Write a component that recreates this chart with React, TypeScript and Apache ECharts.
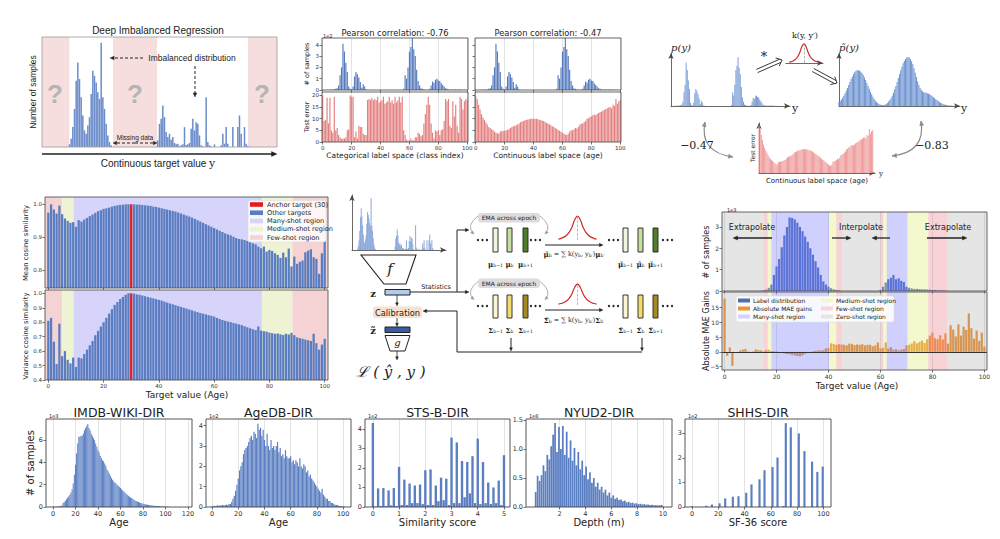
import React, { useEffect, useRef } from "react";
import * as echarts from "echarts";

const SANS = "DejaVu Sans";
const SERIF = "DejaVu Serif";
const ARIAL = "Liberation Sans";

// ---------------- data ----------------
// (a) Deep Imbalanced Regression sketch: bins across the target range
const DIR_LEFT_START = 16;
const DIR_LEFT = [8, 25, 60, 115, 200, 255, 205, 150, 95, 50, 40, 65, 90, 160, 230, 215, 195, 165, 145, 315, 150, 115, 70, 35, 15, 5];
const DIR_RIGHT_START = 69;
const DIR_RIGHT = [20, 70, 85, 125, 90, 45, 30, 40, 22, 30, 12, 8, 10, 3, 5, 8, 60, 6, 8, 12, 55, 85, 50, 75, 70, 35, 5, 2, 0, 150, 15, 5, 2, 0, 8, 0, 0, 0, 5, 40, 10, 60, 10, 0, 0, 60, 0, 0, 60, 95, 40, 0, 60, 10, 3];
const DIR_MISSING = [[-0.5, 15.9], [42.1, 68.5], [123.1, 140.5]];

// (b) label distribution (1e2) and test errors, index = label 0..100
const LABEL_DIST = [0, 0, 0, 0.03, 0, 0.05, 0.03, 0.05, 0.04, 0.1,
  0.15, 0.4, 1.3, 2.0, 4.1, 3.4, 2.4, 1.6, 0.3, 0.1,
  0.05, 0.3, 1.2, 1.6, 1.4, 1.1, 0.7, 0.2, 0.5, 0.3,
  0.05, 0.02, 0, 0, 0, 0, 0, 0, 0, 0,
  0, 0, 0, 0, 0, 0, 0, 0, 0, 0,
  0, 0, 0, 0, 0, 0, 0.1, 1.3, 1.0, 2.0,
  3.4, 3.8, 4.6, 3.6, 3.0, 1.8, 0.8, 0.4, 0.15, 0.1,
  0.05, 0.02, 0, 0.02, 0.1, 0.4, 0.75, 0.65, 0.9, 1.0,
  0.85, 0.8, 0.6, 0.45, 0.3, 0.15, 0.1, 0.05, 0.02, 0.03,
  0.05, 0.02, 0.05, 0.03, 0.05, 0.02, 0.03, 0, 0.02, 0,
  0];
const TEST_ERR_CAT = [20, 9, 9.5, 19, 8, 19, 5, 4, 19.5, 5,
  6, 3, 2, 1.3, 1.5, 1.5, 2, 5, 5.5, 20,
  19.5, 19.5, 2, 4.5, 1.5, 7, 6.5, 6.5, 3.5, 3,
  3, 18, 18.5, 18, 19, 18, 18.5, 18, 19.5, 17,
  17.5, 18, 19.5, 16.5, 17, 17.5, 19.5, 17, 18, 16.5,
  19.5, 17, 18, 19.5, 17, 19.5, 5, 3, 1, 0.5,
  0.8, 1.5, 0.6, 0.8, 2, 2, 4, 3.5, 2.5, 3,
  8, 12, 16, 19.5, 16, 8, 4, 1.5, 5, 4.5,
  5, 3, 5, 5.5, 9, 18.5, 17.5, 18.5, 7, 6,
  17.5, 11, 16, 7, 4, 19.5, 18.5, 14, 17.5, 18.5,
  18];
const TEST_ERR_AGE = [20, 18.5, 16, 14, 12, 10.5, 9.5, 8.5, 7.5, 6.5,
  6, 5.5, 5, 4.5, 4, 3.8, 3.5, 4.5, 4.6, 4.8,
  4.8, 5, 5.2, 5.5, 6, 6.5, 6.8, 7, 7.2, 7.5,
  8, 8.5, 8.8, 9, 9.3, 9.5, 9.7, 9.8, 10, 10,
  10, 10, 10, 9.8, 9.6, 9.4, 9.2, 9, 8.6, 8.2,
  8, 7.6, 7.2, 6.8, 6.5, 6, 5.6, 5.2, 4.8, 4.4,
  4, 3.6, 3.2, 3, 3.5, 4.5, 5, 5, 5.5, 6,
  5.8, 6.5, 7.5, 7.8, 8, 8.5, 9, 10, 10.2, 10.8,
  11, 11.5, 11.8, 11.5, 12, 12.5, 12.8, 13, 13.5, 13.8,
  14.2, 14.5, 14.8, 15, 14.5, 16, 15.5, 18.5, 16.5, 17.5,
  18];

// (c) smoothed label density p~(y) and kernel shape
const P_TILDE = [0.08, 0.1, 0.13, 0.17, 0.21, 0.26, 0.31, 0.37, 0.43, 0.49,
  0.55, 0.6, 0.65, 0.69, 0.72, 0.73, 0.73, 0.72, 0.7, 0.67,
  0.63, 0.58, 0.53, 0.47, 0.41, 0.35, 0.29, 0.24, 0.19, 0.15,
  0.11, 0.08, 0.06, 0.04, 0.03, 0.02, 0.02, 0.02, 0.03, 0.04,
  0.06, 0.09, 0.12, 0.16, 0.21, 0.27, 0.34, 0.41, 0.49, 0.57,
  0.65, 0.73, 0.8, 0.87, 0.92, 0.96, 0.99, 1.0, 0.99, 0.96,
  0.91, 0.85, 0.77, 0.68, 0.59, 0.5, 0.43, 0.37, 0.33, 0.3,
  0.28, 0.27, 0.27, 0.26, 0.25, 0.24, 0.22, 0.2, 0.18, 0.16,
  0.14, 0.12, 0.1, 0.08, 0.065, 0.05, 0.04, 0.03, 0.025, 0.02,
  0.015, 0.012, 0.01, 0.008, 0.006, 0.005, 0.004, 0.003, 0.002, 0.001,
  0];
const KERNEL = [0.04, 0.07, 0.12, 0.2, 0.33, 0.55, 0.85, 1.0, 0.85, 0.55, 0.33, 0.2, 0.12, 0.07, 0.04];
const KERNEL_CENTER = 7;

// (d) feature similarity to anchor age 30
const ANCHOR_AGE = 30;
const MEAN_SIM = [0.975, 1.0, 0.984, 0.972, 0.996, 0.97, 0.957, 0.95, 0.944, 0.946,
  0.932, 0.952, 0.948, 0.954, 0.959, 0.964, 0.969, 0.974, 0.979, 0.982,
  0.986, 0.988, 0.99, 0.993, 0.995, 0.997, 0.998, 0.999, 1.0, 1.0,
  1.0, 1.0, 0.999, 0.999, 0.998, 0.997, 0.996, 0.995, 0.993, 0.992,
  0.99, 0.988, 0.986, 0.984, 0.982, 0.98, 0.978, 0.975, 0.972, 0.969,
  0.966, 0.963, 0.96, 0.956, 0.952, 0.948, 0.944, 0.94, 0.936, 0.932,
  0.928, 0.924, 0.92, 0.916, 0.912, 0.909, 0.906, 0.902, 0.898, 0.895,
  0.894, 0.892, 0.889, 0.886, 0.882, 0.879, 0.872, 0.867, 0.872, 0.857,
  0.862, 0.859, 0.852, 0.847, 0.838, 0.854, 0.84, 0.866, 0.812, 0.842,
  0.82, 0.826, 0.83, 0.855, 0.86, 0.864, 0.84, 0.835, 0.79, 0.852,
  0.889];
const VAR_SIM = [0.81, 0.83, 0.665, 0.51, 0.79, 0.565, 0.6, 0.54, 0.515, 0.555,
  0.49, 0.555, 0.55, 0.58, 0.61, 0.64, 0.67, 0.71, 0.74, 0.77,
  0.8, 0.83, 0.86, 0.89, 0.92, 0.94, 0.96, 0.975, 0.99, 1.0,
  1.0, 0.998, 0.993, 0.99, 0.985, 0.98, 0.975, 0.97, 0.965, 0.96,
  0.955, 0.95, 0.943, 0.936, 0.93, 0.924, 0.918, 0.912, 0.906, 0.9,
  0.894, 0.888, 0.882, 0.876, 0.87, 0.864, 0.859, 0.854, 0.849, 0.844,
  0.839, 0.83, 0.822, 0.815, 0.81, 0.805, 0.8, 0.795, 0.79, 0.785,
  0.78, 0.772, 0.765, 0.758, 0.752, 0.746, 0.77, 0.742, 0.738, 0.735,
  0.728, 0.724, 0.72, 0.722, 0.716, 0.712, 0.72, 0.715, 0.726, 0.71,
  0.695, 0.69, 0.685, 0.68, 0.675, 0.67, 0.72, 0.655, 0.61, 0.645,
  0.685];
const D_REGION_EDGES = [-1.2, 5, 9.1, 77.3, 88.3, 101.2];
const D_REGION_TYPES = ["few", "medium", "many", "medium", "few"];

// (f) label distribution (1e3) and absolute MAE gains
const F_LABEL = [0, 0, 0, 0, 0, 0, 0, 0, 0, 0,
  0, 0, 0, 0, 0.01, 0.03, 0.06, 0.15, 0.3, 0.75,
  1.15, 1.5, 2.05, 2.6, 3.0, 3.45, 3.42, 3.35, 3.2, 3.0,
  2.8, 2.55, 2.3, 2.0, 1.7, 1.4, 1.1, 0.75, 0.45, 0.3,
  0.2, 0.13, 0.08, 0.05, 0.03, 0.01, 0, 0, 0, 0,
  0, 0, 0, 0, 0, 0, 0, 0, 0, 0,
  0.05, 0.2, 0.4, 0.55, 0.62, 0.75, 0.55, 0.6, 0.48, 0.42,
  0.2, 0.15, 0.12, 0.1, 0.1, 0.09, 0.08, 0.08, 0.07, 0.06,
  0.05, 0.05, 0.04, 0.03, 0.03, 0.02, 0, 0, 0, 0,
  0, 0, 0, 0, 0, 0, 0, 0, 0, 0,
  0];
const MAE_GAINS = [18, -1.3, 1.5, -4.7, 0, -0.3, 0.5, 0.8, 1.0, 0.2,
  -0.3, 0.2, 0.8, 0.6, 0.5, 0.2, 0.6, 0.7, 0.3, 0.2,
  0.2, -0.1, -0.3, -0.5, -0.7, -0.8, -1.0, -1.2, -1.4, -1.5,
  -1.2, -0.6, -0.3, -0.1, 0.2, 0.4, 0.5, 0.5, 0.6, 1.2,
  1.3, 2.9, 2.7, 2.4, 2.6, 2.5, 2.4, 2.2, 2.8, 2.7,
  2.3, 2.5, 2.4, 2.6, 2.2, 2.4, 2.4, 1.9, 2.2, 3.2,
  1.2, 1.4, 3.2, 1.1, 1.6, 0.8, 0.9, 0.5, 0.8, 1.0,
  2.2, 2.4, 2.8, 3.6, 2.9, 3.3, 3.8, 3.0, 4.3, 5.5,
  6.5, 4.6, 4.3, 5.6, 4.2, 6.2, 2.8, 9.0, 7.5, 5.2,
  9.3, 5.5, 8.5, 7.4, 13.0, 8.0, 4.5, 7.2, 3.7, 6.5,
  1.8];
const F_REGION_EDGES = [-1, 15, 16.6, 18, 40.2, 43, 45.3, 60.1, 61.1, 62.4, 70.4, 78.4, 85.6, 101];
const F_REGION_TYPES = ["zero", "few", "medium", "many", "medium", "few", "zero", "few", "medium", "many", "medium", "few", "zero"];

// bottom row histograms
const IMDB = [0.02, 0.02, 0.03, 0.03, 0.05, 0.05, 0.08, 0.1, 0.15, 0.35,
  0.45, 0.55, 0.7, 0.85, 0.95, 1.1, 1.3, 1.6, 2.1, 2.9,
  3.8, 4.8, 5.7, 6.3, 6.3, 6.4, 6.4, 6.6, 6.9, 7.1,
  7.3, 7.45, 7.1, 6.9, 6.6, 6.4, 6.2, 6.0, 5.7, 5.4,
  5.1, 4.9, 4.6, 4.4, 4.2, 4.1, 3.9, 3.7, 3.4, 3.2,
  3.0, 2.8, 2.6, 2.45, 2.3, 2.2, 2.1, 2.0, 1.9, 1.8,
  1.7, 1.6, 1.5, 1.4, 1.3, 1.2, 1.1, 1.0, 0.92, 0.85,
  0.8, 0.72, 0.65, 0.58, 0.54, 0.5, 0.45, 0.4, 0.36, 0.33,
  0.3, 0.27, 0.24, 0.22, 0.2, 0.18, 0.16, 0.15, 0.14, 0.13,
  0.12, 0.1, 0.09, 0.08, 0.07, 0.06, 0.05, 0.045, 0.04, 0.035,
  0.03, 0.02, 0.02, 0.015, 0.01, 0.01, 0.008, 0.006, 0.005, 0.004,
  0.003];
const AGEDB = [0.05, 0.03, 0.06, 0.05, 0.08, 0.06, 0.07, 0.08, 0.1, 0.08,
  0.1, 0.12, 0.1, 0.15, 0.15, 0.25, 0.4, 0.55, 0.8, 1.1,
  1.4, 1.8, 2.0, 2.2, 2.6, 2.8, 2.9, 3.0, 3.2, 3.4,
  3.5, 3.3, 3.7, 3.6, 3.4, 4.1, 3.8, 3.9, 3.5, 3.8,
  3.3, 3.0, 3.6, 3.0, 2.8, 3.3, 2.9, 3.0, 2.8, 3.0,
  3.2, 2.7, 2.9, 2.5, 2.6, 2.4, 2.8, 2.5, 2.4, 2.4,
  2.5, 2.2, 2.3, 2.1, 2.3, 2.2, 2.0, 2.4, 2.0, 1.9,
  2.1, 2.0, 1.7, 1.8, 1.5, 1.6, 1.4, 1.3, 1.2, 1.1,
  1.0, 0.9, 0.8, 0.7, 0.9, 0.6, 0.5, 0.4, 0.4, 0.3,
  0.3, 0.2, 0.2, 0.15, 0.1, 0.1, 0.1, 0.05, 0.05, 0.05,
  0.03, 0.02];
const STS_BIN = 0.1;
const STS = [4.3, 0.02, 0.95, 0.05, 0.97, 0.05, 0.85, 0.08, 0.97, 0.05,
  2.05, 0.1, 1.4, 0.1, 1.2, 0.2, 1.1, 0.2, 1.15, 0.15,
  1.88, 0.1, 1.92, 0.1, 1.1, 0.3, 1.5, 0.35, 1.45, 0.1,
  3.55, 0.2, 3.3, 0.2, 2.35, 0.5, 2.3, 0.7, 2.6, 0.2,
  3.5, 0.15, 2.3, 0.2, 1.25, 0.15, 1.0, 0.2, 1.35, 0.1,
  2.65];
const NYU_START = 0.15;
const NYU_BIN = 0.15;
const NYU = [0.26, 0.54, 0.45, 0.55, 0.72, 0.62, 0.9, 0.82, 1.05, 1.25,
  1.45, 0.95, 1.38, 1.0, 1.4, 0.9, 1.3, 0.85, 1.15, 0.8,
  1.02, 0.72, 0.95, 0.65, 0.8, 0.55, 0.7, 0.48, 0.6, 0.42,
  0.5, 0.35, 0.42, 0.3, 0.35, 0.25, 0.3, 0.2, 0.25, 0.16,
  0.2, 0.14, 0.16, 0.12, 0.13, 0.1, 0.11, 0.08, 0.09, 0.07,
  0.075, 0.06, 0.065, 0.05, 0.055, 0.045, 0.05, 0.04, 0.042, 0.035,
  0.038, 0.03, 0.032, 0.028, 0.03, 0.035];
const SHHS_X = [0, 5, 10.9, 15.2, 21, 25.3, 31.1, 35.4, 41.3, 45.3, 51.4, 55.2, 61.3, 65.1, 69.6, 71.4, 75.2, 81.3, 85.6, 91.4, 95.4, 99.5];
const SHHS_Y = [0.03, 0.01, 0.05, 0.1, 0.15, 0.35, 0.42, 0.44, 0.58, 0.92, 1.13, 1.5, 1.63, 2.02, 0.04, 3.42, 3.25, 3.0, 2.28, 1.85, 1.43, 1.65];

// tick labels
const AGE_TICKS = [0, 20, 40, 60, 80, 100];
const IMDB_X_TICKS = [0, 20, 40, 60, 80, 100, 120];
const IMDB_Y_TICKS = [0, 2, 4, 6];
const AGEDB_Y_TICKS = [0, 1, 2, 3, 4];
const STS_X_TICKS = [0, 1, 2, 3, 4, 5];
const STS_Y_TICKS = [0, 1, 2, 3, 4];
const NYU_X_TICKS = [2, 4, 6, 8, 10];
const NYU_Y_TICKS = [0, 0.5, 1.0, 1.5];
const SHHS_Y_TICKS = [0, 1, 2, 3];
const B_COUNT_TICKS = [0, 1, 2, 3, 4];
const B_ERR_TICKS = [0, 5, 10, 15, 20];
const SIM_MEAN_TICKS = [0.8, 0.9, 1.0];
const SIM_VAR_TICKS = [0.4, 0.5, 0.6, 0.7, 0.8, 0.9, 1.0];
const F_COUNT_TICKS = [0, 1, 2, 3];
const F_GAIN_TICKS = [-5, 0, 5, 10, 15];

// colours
const BLUE = "#5479bd";
const RED = "#e47f7f";
const ORANGE = "#ec9538";
const D_COLORS: any = { few: "#f5d3d4", medium: "#eef3d4", many: "#d6d4fa" };
const F_OVERLAY: any = { zero: "rgba(150,150,150,0.25)", few: "rgba(232,130,140,0.35)", medium: "rgba(222,232,100,0.32)", many: "rgba(120,120,255,0.35)" };
const F_SWATCH: any = { zero: "#e5e5e5", few: "#f7d5d8", medium: "#f5f7cf", many: "#d2d2ff" };

// ---------------- helpers ----------------
function axis(gi: number, min: number, max: number, ticks: number[], o: any = {}) {
  const step = ticks.length > 1 ? ticks[1] - ticks[0] : max - min;
  const isTick = (v: number) => ticks.some((t) => Math.abs(t - v) < Math.abs(step) * 1e-3);
  const fmt = (v: number) => {
    if (!isTick(v)) return "";
    const s = o.dec != null ? Number(v).toFixed(o.dec) : String(Math.round(v * 1000) / 1000);
    return s.replace("-", "\u2212");
  };
  return {
    type: "value",
    gridIndex: gi,
    min,
    max,
    minInterval: step,
    maxInterval: step,
    axisLine: {
      show: !!o.line,
      onZero: false,
      lineStyle: { color: o.lineColor || "#333", width: o.lineWidth || 0.8 },
      symbol: o.arrow ? ["none", "arrow"] : "none",
      symbolSize: [4, 6],
    },
    axisTick: { show: o.tick !== false && ticks.length > 0, customValues: ticks, length: 2.5, lineStyle: { color: "#333", width: 0.7 } },
    axisLabel: {
      show: o.label !== false && ticks.length > 0,
      customValues: ticks,
      fontSize: o.fs || 6,
      color: "#333",
      margin: 3,
      fontFamily: SANS,
      hideOverlap: false,
      formatter: fmt,
    },
    splitLine: { show: !!o.grid, lineStyle: { color: "#dcdcdc", width: 0.8 } },
  };
}

const TXT = (x: number, y: number, text: string, o: any = {}) => ({
  type: "text",
  x,
  y,
  rotation: o.rot || 0,
  z: 100,
  silent: true,
  style: {
    text,
    fontSize: o.fs || 8,
    fontFamily: o.ff || SANS,
    fill: o.color || "#222",
    align: o.align || "center",
    verticalAlign: o.va || "middle",
    fontStyle: o.it ? "italic" : "normal",
    fontWeight: o.bold ? "bold" : "normal",
    rich: o.rich,
  },
});
const LN = (x1: number, y1: number, x2: number, y2: number, o: any = {}) => ({
  type: "line",
  z: 100,
  silent: true,
  shape: { x1, y1, x2, y2 },
  style: { stroke: o.color || "#222", lineWidth: o.w || 1, lineDash: o.dash },
});
const HEAD = (x: number, y: number, ang: number, s = 5, color = "#222") => {
  const a1 = ang + Math.PI - 0.42;
  const a2 = ang + Math.PI + 0.42;
  return {
    type: "polygon",
    z: 100,
    silent: true,
    shape: { points: [[x, y], [x + s * Math.cos(a1), y + s * Math.sin(a1)], [x + s * Math.cos(a2), y + s * Math.sin(a2)]] },
    style: { fill: color, stroke: color, lineWidth: 0.4 },
  };
};
const ARROW = (x1: number, y1: number, x2: number, y2: number, o: any = {}) => {
  const ang = Math.atan2(y2 - y1, x2 - x1);
  const s = o.s || 5;
  return [LN(x1, y1, x2 - Math.cos(ang) * s * 0.7, y2 - Math.sin(ang) * s * 0.7, o), HEAD(x2, y2, ang, s, o.color || "#222")];
};
const DARROW = (x1: number, y1: number, x2: number, y2: number) => {
  const ang = Math.atan2(y2 - y1, x2 - x1);
  const dx = Math.cos(ang), dy = Math.sin(ang);
  const px = -dy, py = dx;
  const d = 1.7;
  const ex = x2 - dx * 2, ey = y2 - dy * 2;
  return [
    LN(x1 + px * d, y1 + py * d, ex + px * d, ey + py * d, { w: 0.9 }),
    LN(x1 - px * d, y1 - py * d, ex - px * d, ey - py * d, { w: 0.9 }),
    { type: "polyline", z: 100, silent: true, shape: { points: [[x2 - dx * 5 + px * 4.5, y2 - dy * 5 + py * 4.5], [x2, y2], [x2 - dx * 5 - px * 4.5, y2 - dy * 5 - py * 4.5]] }, style: { stroke: "#222", lineWidth: 0.9, fill: "none" } },
  ];
};
const CURVE = (x1: number, y1: number, cx: number, cy: number, x2: number, y2: number, o: any = {}) => {
  const color = o.color || "#888";
  const out: any[] = [
    { type: "bezierCurve", z: 100, silent: true, shape: { x1, y1, x2, y2, cpx1: cx, cpy1: cy }, style: { stroke: color, lineWidth: o.w || 1.2, fill: "none" } },
  ];
  if (o.end !== false) out.push(HEAD(x2, y2, Math.atan2(y2 - cy, x2 - cx), o.s || 5, color));
  if (o.start) out.push(HEAD(x1, y1, Math.atan2(y1 - cy, x1 - cx), o.s || 5, color));
  return out;
};
const RECT = (x: number, y: number, w: number, h: number, fill: string, o: any = {}) => ({
  type: "rect",
  z: o.z || 100,
  silent: true,
  shape: { x, y, width: w, height: h, r: o.r || 0 },
  style: { fill, stroke: o.stroke || "none", lineWidth: o.lw || 1 },
});
const DOTS = (x: number, y: number) => [0, 4.5, 9].map((d) => ({ type: "circle", z: 100, silent: true, shape: { cx: x + d, cy: y, r: 1.15 }, style: { fill: "#222" } }));

const RICH = {
  m: { fontFamily: SERIF, fontWeight: "bold", fontSize: 7, lineHeight: 11, verticalAlign: "bottom", fill: "#222" },
  n: { fontFamily: SERIF, fontSize: 6.5, lineHeight: 11, verticalAlign: "bottom", fill: "#222" },
  s: { fontFamily: SERIF, fontSize: 4.6, lineHeight: 6, verticalAlign: "bottom", fill: "#222" },
};

function buildOption() {
  const grid: any[] = [];
  const xAxis: any[] = [];
  const yAxis: any[] = [];
  const series: any[] = [];
  const g: any[] = [];
  const addGrid = (l: number, t: number, w: number, h: number, frame?: string) => {
    grid.push({ left: l, top: t, width: w, height: h, containLabel: false });
    if (frame) g.push({ type: "rect", z: 60, silent: true, shape: { x: l, y: t, width: w, height: h }, style: { fill: "none", stroke: frame, lineWidth: 0.9 } });
    return grid.length - 1;
  };
  const idx = (arr: number[]) => arr.map((v, i) => [i, v]);
  const bars = (gi: number, data: any[], color: string, o: any = {}) =>
    series.push({
      type: "bar",
      xAxisIndex: gi,
      yAxisIndex: gi,
      data,
      barWidth: o.bw || "85%",
      itemStyle: { color },
      silent: true,
      z: 2,
      markArea: o.markArea,
      markLine: o.markLine,
    });
  const kernel = (gi: number) =>
    series.push({
      type: "line",
      xAxisIndex: gi,
      yAxisIndex: gi,
      data: idx(KERNEL),
      smooth: true,
      showSymbol: false,
      silent: true,
      lineStyle: { color: "#cc2b2b", width: 1.2 },
      markLine: {
        silent: true,
        symbol: "none",
        label: { show: false },
        lineStyle: { color: "#999", type: "dashed", width: 0.7 },
        data: [{ xAxis: KERNEL_CENTER }],
      },
    });

  // ===== (a) Deep Imbalanced Regression =====
  const dirData = DIR_LEFT.map((v, i) => [DIR_LEFT_START + i, v]).concat(DIR_RIGHT.map((v, i) => [DIR_RIGHT_START + i, v]));
  let gi = addGrid(42, 37, 235, 110, "#a3a3a3");
  xAxis.push(axis(gi, -0.5, 140.5, [], { tick: false, label: false }));
  yAxis.push(axis(gi, 0, 332, [], { tick: false, label: false }));
  bars(gi, dirData, "#6a8cca", {
    bw: "90%",
    markArea: { silent: true, itemStyle: { color: "#f6dede" }, data: DIR_MISSING.map(([a, b]) => [{ xAxis: a }, { xAxis: b }]) },
  });
  g.push(TXT(158, 30, "Deep Imbalanced Regression", { fs: 10, ff: ARIAL }));
  [[55, 94], [135, 94], [262, 94]].forEach(([x, y]) => g.push(TXT(x, y, "?", { fs: 26, bold: true, color: "#b4b4b4", ff: ARIAL })));
  g.push(TXT(192, 58, "Imbalanced distribution", { fs: 8.5, ff: ARIAL }));
  g.push(...ARROW(143, 58, 110, 58, { dash: [3, 2], w: 1, s: 4.5 }));
  g.push(...ARROW(195, 66, 195, 97, { dash: [3, 2], w: 1, s: 4.5 }));
  g.push(TXT(135, 137, "Missing data", { fs: 6.5, ff: ARIAL }));
  g.push(...ARROW(135, 143, 113, 143, { dash: [3, 2], w: 1, s: 4 }));
  g.push(...ARROW(135, 143, 157, 143, { dash: [3, 2], w: 1, s: 4 }));
  g.push(...ARROW(42, 154, 277, 154, { w: 1.6, s: 6 }));
  g.push(TXT(33, 92, "Number of samples", { fs: 8.5, ff: ARIAL, rot: Math.PI / 2 }));
  g.push(TXT(158, 163, "{a|Continuous target value }{b|y}", {
    fs: 10,
    rich: { a: { fontFamily: ARIAL, fontSize: 10, fill: "#222" }, b: { fontFamily: SERIF, fontSize: 11, fill: "#222" } },
  }));

  // ===== (b) Pearson correlation panels =====
  const bPanels = [
    { left: 322, err: TEST_ERR_CAT, title: "Pearson correlation: -0.76", xl: "Categorical label space (class index)", ylab: true },
    { left: 475, err: TEST_ERR_AGE, title: "Pearson correlation: -0.47", xl: "Continuous label space (age)", ylab: false },
  ];
  bPanels.forEach((p) => {
    const a = addGrid(p.left, 38, 146, 52, "#555");
    xAxis.push(axis(a, -0.5, 100.5, AGE_TICKS, { label: false, grid: true }));
    yAxis.push(axis(a, 0, 4.6, B_COUNT_TICKS, { fs: 5.5, label: p.ylab }));
    bars(a, idx(LABEL_DIST), BLUE, { bw: "80%" });
    const b = addGrid(p.left, 92, 146, 50, "#555");
    xAxis.push(axis(b, -0.5, 100.5, AGE_TICKS, { fs: 5.5, grid: true }));
    yAxis.push(axis(b, 0, 21.5, B_ERR_TICKS, { fs: 5.5, label: p.ylab }));
    bars(b, idx(p.err), RED, { bw: "80%" });
    g.push(TXT(p.left + 73, 33, p.title, { fs: 8.3 }));
    g.push(TXT(p.left + 73, 155, p.xl, { fs: 7.5 }));
  });
  g.push(TXT(323, 35.5, "1e2", { fs: 5, align: "left" }));
  g.push(TXT(307, 64, "# of samples", { fs: 6.5, rot: Math.PI / 2 }));
  g.push(TXT(307, 117, "Test error", { fs: 6.5, rot: Math.PI / 2 }));

  // ===== (c) LDS =====
  gi = addGrid(671, 53, 119, 53);
  xAxis.push(axis(gi, 0, 110, [], { line: true, arrow: true, lineColor: "#444" }));
  yAxis.push(axis(gi, 0, 5.0, [], { line: true, arrow: true, lineColor: "#444" }));
  bars(gi, idx(LABEL_DIST), "#7a9ed6", { bw: "80%" });
  gi = addGrid(839, 53, 121, 53);
  xAxis.push(axis(gi, 0, 100, [], { line: true, arrow: true, lineColor: "#444" }));
  yAxis.push(axis(gi, 0, 1.08, [], { line: true, arrow: true, lineColor: "#444" }));
  bars(gi, idx(P_TILDE), "#6e94d2", { bw: "88%" });
  gi = addGrid(759, 123, 116, 50);
  xAxis.push(axis(gi, 0, 102, [], { line: true, arrow: true, lineColor: "#444" }));
  yAxis.push(axis(gi, 0, 21, [], { line: true, arrow: true, lineColor: "#444" }));
  bars(gi, idx(TEST_ERR_AGE), "#ee9a9a", { bw: "88%" });
  gi = addGrid(786, 43, 37, 20);
  xAxis.push(axis(gi, -1.5, 16, [], { line: true, arrow: true, lineColor: "#444" }));
  yAxis.push(axis(gi, 0, 1.05, [], {}));
  kernel(gi);
  g.push(TXT(681, 47, "p(y)", { fs: 10, ff: SERIF, it: true }));
  g.push(TXT(849, 47, "p\u0303(y)", { fs: 10, ff: SERIF, it: true }));
  g.push(TXT(795, 108, "y", { fs: 11, ff: SERIF }));
  g.push(TXT(964, 108, "y", { fs: 11, ff: SERIF }));
  g.push(TXT(881, 174, "y", { fs: 7, ff: SERIF }));
  g.push(TXT(805, 35, "k(y, y\u2032)", { fs: 8, ff: SERIF }));
  g.push(TXT(764, 56, "*", { fs: 13, ff: SERIF }));
  g.push(...DARROW(757, 71, 782, 60));
  g.push(...DARROW(813, 70, 837, 83));
  g.push(...CURVE(733, 157, 699, 152, 705, 122, { start: true, color: "#8a8a8a" }));
  g.push(...CURVE(892, 156, 926, 152, 921, 121, { start: true, color: "#8a8a8a" }));
  g.push(TXT(697, 145, "\u22120.47", { fs: 11, ff: SERIF }));
  g.push(TXT(932, 145, "\u22120.83", { fs: 11, ff: SERIF }));
  g.push(TXT(752, 148, "Test error", { fs: 6, rot: Math.PI / 2 }));
  g.push(TXT(817, 181, "Continuous label space (age)", { fs: 7 }));

  // ===== (d) cosine similarity =====
  const dMark = {
    silent: true,
    data: D_REGION_TYPES.map((t, i) => [{ xAxis: D_REGION_EDGES[i], itemStyle: { color: D_COLORS[t] } }, { xAxis: D_REGION_EDGES[i + 1] }]),
  };
  const simBars = (arr: number[]) => arr.map((v, i) => (i === ANCHOR_AGE ? { value: [i, v], itemStyle: { color: "#e01e1e" } } : [i, v]));
  gi = addGrid(45, 197, 283, 91, "#555");
  xAxis.push(axis(gi, -1.2, 101.2, AGE_TICKS, { label: false }));
  yAxis.push(axis(gi, 0.747, 1.022, SIM_MEAN_TICKS, { fs: 5.5, dec: 1 }));
  bars(gi, simBars(MEAN_SIM), "#5a7cc0", { bw: "82%", markArea: dMark });
  gi = addGrid(45, 290, 283, 90, "#555");
  xAxis.push(axis(gi, -1.2, 101.2, AGE_TICKS, { fs: 5.5 }));
  yAxis.push(axis(gi, 0.4, 1.023, SIM_VAR_TICKS, { fs: 5.5, dec: 1 }));
  bars(gi, simBars(VAR_SIM), "#5a7cc0", { bw: "82%", markArea: dMark });
  g.push(TXT(26, 243, "Mean cosine similarity", { fs: 6.8, rot: Math.PI / 2 }));
  g.push(TXT(26, 336, "Variance cosine similarity", { fs: 6.8, rot: Math.PI / 2 }));
  g.push(TXT(187, 395, "Target value (Age)", { fs: 9 }));
  g.push(RECT(248, 200.5, 78, 41.5, "rgba(255,255,255,0.8)", { stroke: "#ddd", lw: 0.6, r: 2 }));
  const dLegend = [
    ["#e01e1e", "Anchor target (30)"],
    ["#5a7cc0", "Other targets"],
    [D_COLORS.many, "Many-shot region"],
    [D_COLORS.medium, "Medium-shot region"],
    [D_COLORS.few, "Few-shot region"],
  ];
  dLegend.forEach(([c, t], i) => {
    const y = 204.5 + i * 8.25;
    g.push(RECT(250, y - 2.3, 13, 4.6, c));
    g.push(TXT(267, y, t, { fs: 6.6, align: "left" }));
  });

  // ===== (e) FDS diagram =====
  gi = addGrid(352, 195, 94, 55);
  xAxis.push(axis(gi, 8, 141, [], { line: true, arrow: true, lineColor: "#444" }));
  yAxis.push(axis(gi, 0, 335, [], { line: true, arrow: true, lineColor: "#444" }));
  bars(gi, dirData, "#8aa8dc", { bw: "80%" });
  gi = addGrid(557, 215, 41, 25);
  xAxis.push(axis(gi, -0.5, 14.5, [], {}));
  yAxis.push(axis(gi, 0, 1.05, [], {}));
  kernel(gi);
  gi = addGrid(557, 283, 41, 22);
  xAxis.push(axis(gi, -0.5, 14.5, [], {}));
  yAxis.push(axis(gi, 0, 1.05, [], {}));
  kernel(gi);

  g.push({ type: "polygon", z: 100, silent: true, shape: { points: [[361, 255], [416, 255], [406, 284], [384, 284]] }, style: { fill: "#fff", stroke: "#222", lineWidth: 1.1 } });
  g.push(TXT(390, 269, "f", { fs: 15, ff: SERIF, it: true }));
  g.push(RECT(385, 289.5, 25, 5.5, "#b3c9ee", { stroke: "#222", lw: 1 }));
  g.push(TXT(373, 293, "z", { fs: 10, ff: SERIF, bold: true }));
  g.push(...ARROW(397, 295, 397, 306, { s: 3.5, w: 0.8 }));
  g.push(RECT(373, 306.5, 49, 11.5, "#f7e1d0", { r: 2.5 }));
  g.push(TXT(397.5, 312.5, "Calibration", { fs: 8.3 }));
  g.push(...ARROW(397, 318, 397, 326.5, { s: 3.5, w: 0.8 }));
  g.push(RECT(385, 327, 25, 5.5, "#3a5ba6", { stroke: "#222", lw: 1 }));
  g.push(TXT(373, 330, "z\u0303", { fs: 10, ff: SERIF, bold: true }));
  g.push({ type: "polygon", z: 100, silent: true, shape: { points: [[385, 335.5], [410, 335.5], [405, 351], [390, 351]] }, style: { fill: "#fff", stroke: "#222", lineWidth: 1 } });
  g.push(TXT(397.5, 342, "g", { fs: 10, ff: SERIF, it: true }));
  g.push(...ARROW(397, 351, 397, 360, { s: 3.5, w: 0.8 }));
  g.push(TXT(391, 372, "\u2112 ( y\u0302 , y )", { fs: 15, ff: SERIF, it: true }));
  g.push(LN(410, 292, 457, 292, { w: 1 }));
  g.push(...ARROW(457, 292, 469, 292, { s: 4, w: 1 }));
  g.push(LN(457, 292, 457, 230, { w: 1 }));
  g.push(...ARROW(457, 230, 469, 230, { s: 4, w: 1 }));
  g.push(TXT(436, 286.5, "Statistics", { fs: 6.5 }));
  g.push(LN(457, 352, 642, 352, { w: 1 }));
  g.push(LN(457, 352, 457, 311, { w: 1 }));
  g.push(...ARROW(457, 311, 423, 311, { s: 4, w: 1 }));
  g.push(...ARROW(511, 338, 511, 351, { s: 3.5, w: 1 }));
  g.push(...ARROW(642, 338, 642, 351, { s: 3.5, w: 1 }));

  const fdsRows = [
    { y: 228, h: 24, dotY: 240, arrowY: 245, labY: 262, formY: 252, emaY: 213, sym: "\u03bc", colors: ["#eef6df", "#c6dfa0", "#4f7f28"] },
    { y: 295, h: 23, dotY: 306, arrowY: 310, labY: 328, formY: 318, emaY: 278.5, sym: "\u03a3", colors: ["#fbf5d2", "#f4dc6c", "#a88a22"] },
  ];
  const subs = ["b\u22121", "b", "b+1"];
  fdsRows.forEach((r) => {
    g.push(RECT(478, r.emaY, 62, 9.5, "#dcdcdc", { r: 3 }));
    g.push(TXT(509, r.emaY + 4.8, "EMA across epoch", { fs: 6 }));
    g.push(...CURVE(478, r.emaY + 3, 465, r.emaY + 13, 474, r.emaY + 21, { color: "#999", w: 0.8, s: 3.5 }));
    g.push(...CURVE(540, r.emaY + 3, 553, r.emaY + 13, 545, r.emaY + 21, { color: "#999", w: 0.8, s: 3.5 }));
    g.push(...DOTS(478, r.dotY), ...DOTS(531, r.dotY), ...DOTS(609, r.dotY), ...DOTS(663, r.dotY));
    [493, 507, 523].forEach((x, i) => {
      g.push(RECT(x, r.y, 5, r.h, r.colors[i], { stroke: "#222", lw: 0.9 }));
      g.push(TXT(x + 2.5, r.labY, `{m|${r.sym}}{s|${subs[i]}}`, { rich: RICH }));
    });
    [623, 638, 653].forEach((x, i) => {
      g.push(RECT(x, r.y, 5, r.h, r.colors[i], { stroke: "#222", lw: 0.9 }));
      g.push(TXT(x + 2.5, r.labY, `{m|${r.sym}\u0303}{s|${subs[i]}}`, { rich: RICH }));
    });
    g.push(...ARROW(545, r.arrowY, 603, r.arrowY, { s: 4, w: 1 }));
    g.push(TXT(574, r.formY, `{m|${r.sym}\u0303}{s|b}{n| = \u2211 k(y}{s|b}{n|, y}{s|b\u2032}{n|)}{m|${r.sym}}{s|b\u2032}`, { rich: RICH }));
  });

  // ===== (f) interpolation / extrapolation =====
  const fMark = {
    silent: true,
    z: 5,
    data: F_REGION_TYPES.map((t, i) => [{ xAxis: F_REGION_EDGES[i], itemStyle: { color: F_OVERLAY[t] } }, { xAxis: F_REGION_EDGES[i + 1] }]),
  };
  gi = addGrid(722, 212, 265, 79, "#555");
  xAxis.push(axis(gi, -1, 101, AGE_TICKS, { label: false, grid: true }));
  yAxis.push(axis(gi, 0, 3.7, F_COUNT_TICKS, { fs: 6 }));
  bars(gi, idx(F_LABEL), "#4c6fc0", { bw: "85%", markArea: fMark });
  gi = addGrid(722, 292, 265, 78, "#555");
  xAxis.push(axis(gi, -1, 101, AGE_TICKS, { fs: 6, grid: true }));
  yAxis.push(axis(gi, -6.1, 20.2, F_GAIN_TICKS, { fs: 6 }));
  bars(gi, idx(MAE_GAINS), ORANGE, {
    bw: "85%",
    markArea: fMark,
    markLine: { silent: true, symbol: "none", label: { show: false }, lineStyle: { color: "#333", type: "solid", width: 1 }, data: [{ yAxis: 0 }] },
  });
  g.push(TXT(727, 209.5, "1e3", { fs: 5, align: "left" }));
  g.push(TXT(706, 252, "# of samples", { fs: 8, rot: Math.PI / 2 }));
  g.push(TXT(706, 331, "Absolute MAE Gains", { fs: 8, rot: Math.PI / 2 }));
  g.push(TXT(857, 386, "Target value (Age)", { fs: 9 }));
  g.push(TXT(752, 227, "Extrapolate", { fs: 8 }));
  g.push(TXT(861, 227, "Interpolate", { fs: 8 }));
  g.push(TXT(948, 227, "Extrapolate", { fs: 8 }));
  g.push(...ARROW(772, 238, 733, 238, { w: 1.3, s: 5 }));
  g.push(...ARROW(832, 238, 851, 238, { w: 1.3, s: 5 }));
  g.push(...ARROW(890, 238, 872, 238, { w: 1.3, s: 5 }));
  g.push(...ARROW(927, 238, 967, 238, { w: 1.3, s: 5 }));
  g.push(RECT(736, 296, 158, 26, "rgba(255,255,255,0.85)", { stroke: "#ddd", lw: 0.6, r: 2 }));
  const fLegend = [
    [["#4c72b0", "Label distribution"], [F_SWATCH.medium, "Medium-shot region"]],
    [[ORANGE, "Absolute MAE gains"], [F_SWATCH.few, "Few-shot region"]],
    [[F_SWATCH.many, "Many-shot region"], [F_SWATCH.zero, "Zero-shot region"]],
  ];
  fLegend.forEach((row, i) => {
    const y = 300.5 + i * 8;
    row.forEach(([c, t], j) => {
      const x = j === 0 ? 738 : 821;
      g.push(RECT(x, y - 2, 12, 4, c));
      g.push(TXT(x + 15, y, t, { fs: 6, align: "left" }));
    });
  });

  // ===== bottom row =====
  const hist = [
    { l: 46, w: 146, title: "IMDB-WIKI-DIR", xl: "Age", exp: "1e3", data: idx(IMDB), xmin: -6.2, xmax: 123.6, xt: IMDB_X_TICKS, ymax: 7.9, yt: IMDB_Y_TICKS, dec: undefined },
    { l: 206, w: 145, title: "AgeDB-DIR", xl: "Age", exp: "1e2", data: idx(AGEDB), xmin: -4.6, xmax: 106, xt: AGE_TICKS, ymax: 4.33, yt: AGEDB_Y_TICKS, dec: undefined },
    { l: 365, w: 145, title: "STS-B-DIR", xl: "Similarity score", exp: "1e2", data: STS.map((v, i) => [i * STS_BIN, v]), xmin: -0.3, xmax: 5.23, xt: STS_X_TICKS, ymax: 4.5, yt: STS_Y_TICKS, dec: undefined },
    { l: 526, w: 146, title: "NYUD2-DIR", xl: "Depth (m)", exp: "1e8", data: NYU.map((v, i) => [NYU_START + i * NYU_BIN, v]), xmin: -0.6, xmax: 10.7, xt: NYU_X_TICKS, ymax: 1.52, yt: NYU_Y_TICKS, dec: 1 },
    { l: 685, w: 146, title: "SHHS-DIR", xl: "SF-36 score", exp: "1e2", data: SHHS_X.map((x, i) => [x, SHHS_Y[i]]), xmin: -5.3, xmax: 105.8, xt: AGE_TICKS, ymax: 3.59, yt: SHHS_Y_TICKS, dec: undefined },
  ];
  hist.forEach((h) => {
    const k = addGrid(h.l, 419, h.w, 88, "#444");
    xAxis.push(axis(k, h.xmin, h.xmax, h.xt, { fs: 6.5, grid: true }));
    yAxis.push(axis(k, 0, h.ymax, h.yt, { fs: 6.5, dec: h.dec }));
    bars(k, h.data, "#5a7ec2", { bw: "90%" });
    g.push(TXT(h.l + h.w / 2, 412, h.title, { fs: 12.5 }));
    g.push(TXT(h.l + h.w / 2, 522, h.xl, { fs: 10 }));
    g.push(TXT(h.l + 3, 415.5, h.exp, { fs: 5, align: "left" }));
  });
  g.push(TXT(30, 463, "# of samples", { fs: 10, rot: Math.PI / 2 }));

  return {
    animation: false,
    backgroundColor: "#ffffff",
    textStyle: { fontFamily: SANS },
    grid,
    xAxis,
    yAxis,
    series,
    graphic: { elements: g },
  };
}

export default function App() {
  const ref = useRef<HTMLDivElement>(null);
  useEffect(() => {
    const chart = echarts.init(ref.current as HTMLDivElement, null, { renderer: "svg" });
    chart.setOption(buildOption() as any);
    return () => chart.dispose();
  }, []);
  return <div ref={ref} style={{ position: "absolute", left: 0, top: 0, width: 1000, height: 539, background: "#fff" }} />;
}
